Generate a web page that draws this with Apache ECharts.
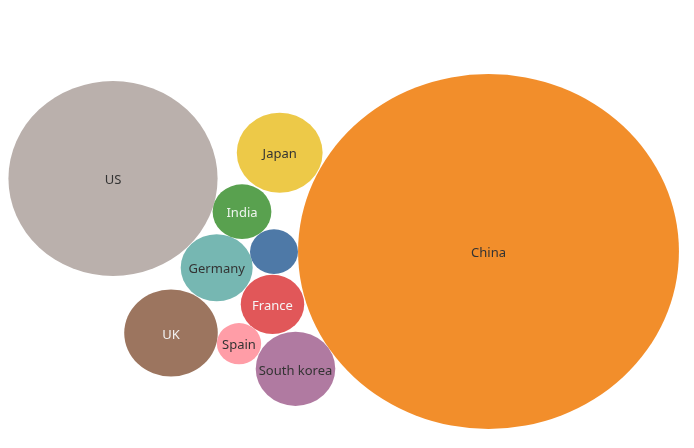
<!DOCTYPE html>
<html>
<head>
<meta charset="utf-8">
<script src="https://cdn.jsdelivr.net/npm/echarts@6/dist/echarts.min.js"></script>
<style>html,body{margin:0;padding:0;background:#fff}#c{width:694px;height:448px}</style>
</head>
<body>
<div id="c"></div>
<script>
const countries = ["China","US","UK","Japan","South korea","Germany","France","India","","Spain"];
const values    = [1260, 380, 76, 64, 55, 45, 35, 30, 20, 17];
const centerX   = [488.5, 113, 171, 279.7, 295.5, 216.7, 272.5, 242, 274, 239];
const centerY   = [251.5, 178.5, 333, 152.7, 368.8, 267.7, 304.3, 211.7, 251.7, 343.7];
const colors    = ["#f28e2b","#bab0ac","#9c755f","#edc948","#b07aa1","#76b7b2","#e15759","#59a14f","#4e79a7","#ff9da7"];
const labelColors = ["#333","#333","#f2f2f2","#333","#333","#333","#f5f5f5","#eef5ee","#fff","#333"];

const data = countries.map((c, i) => ({
  name: c,
  value: [centerX[i], centerY[i], values[i]],
  itemStyle: { color: colors[i] },
  label: { color: labelColors[i] }
}));

const chart = echarts.init(document.getElementById('c'));
chart.setOption({
  animation: false,
  grid: { left: 0, right: 0, top: 0, bottom: 0 },
  xAxis: { type: 'value', min: 0, max: 694, show: false },
  yAxis: { type: 'value', min: 0, max: 448, inverse: true, show: false },
  series: [{
    type: 'scatter',
    data: data,
    symbol: 'circle',
    symbolSize: function (v) {
      const h = 10 * Math.sqrt(v[2]);
      return [h * 1.073, h];
    },
    label: {
      show: true,
      position: 'inside',
      offset: [0, 2],
      formatter: p => p.name,
      fontFamily: 'Noto Sans',
      fontSize: 13
    },
    itemStyle: { opacity: 1 }
  }]
});
</script>
</body>
</html>
